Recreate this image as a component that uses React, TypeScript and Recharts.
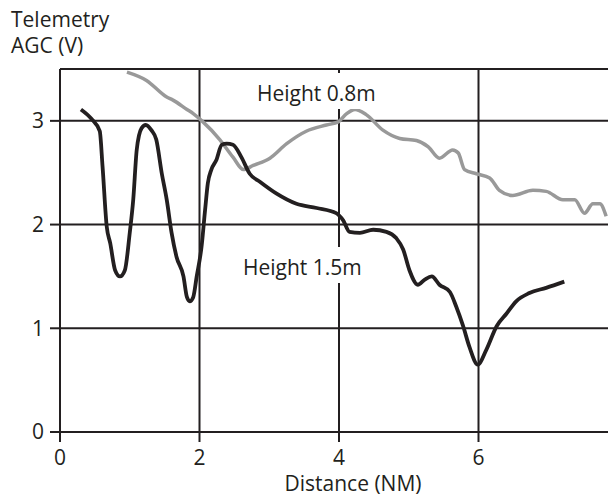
import React from "react";
import { LineChart, Line, XAxis, YAxis, CartesianGrid, ReferenceLine } from "recharts";

// Height 1.5m trace
const lowDistance = [
  0.3, 0.45, 0.57, 0.61, 0.67, 0.72, 0.79, 0.86, 0.93, 1.0, 1.05, 1.1, 1.17, 1.23, 1.31, 1.38,
  1.46, 1.53, 1.6, 1.67, 1.77, 1.82, 1.86, 1.91, 1.96, 2.03, 2.08, 2.12, 2.17, 2.24, 2.32, 2.39,
  2.48, 2.6, 2.72, 2.87, 3.1, 3.39, 3.68, 3.96, 4.06, 4.15, 4.3, 4.49, 4.68, 4.82, 4.92, 5.01,
  5.13, 5.23, 5.33, 5.44, 5.59, 5.68, 5.78, 5.87, 5.99, 6.11, 6.26, 6.4, 6.54, 6.73, 6.97, 7.23,
];
const lowAgc = [
  3.11, 3.02, 2.9, 2.56, 1.98, 1.82, 1.56, 1.5, 1.56, 1.92, 2.24, 2.72, 2.93, 2.96, 2.91, 2.82,
  2.49, 2.24, 1.92, 1.69, 1.5, 1.3, 1.26, 1.3, 1.5, 1.79, 2.14, 2.4, 2.53, 2.62, 2.77, 2.78,
  2.77, 2.65, 2.49, 2.41, 2.3, 2.2, 2.16, 2.11, 2.04, 1.93, 1.92, 1.95, 1.93, 1.87, 1.76, 1.56,
  1.42, 1.47, 1.5, 1.42, 1.35, 1.21, 1.02, 0.82, 0.65, 0.79, 1.02, 1.14, 1.26, 1.34, 1.39, 1.45,
];

// Height 0.8m trace
const highDistance = [
  0.96, 1.24, 1.53, 1.62, 1.82, 1.91, 2.05, 2.29, 2.48, 2.63, 2.77, 3.01, 3.25, 3.53, 3.82, 3.99,
  4.11, 4.23, 4.39, 4.63, 4.87, 5.11, 5.28, 5.44, 5.63, 5.71, 5.8, 5.97, 6.16, 6.3, 6.49, 6.78,
  6.97, 7.21, 7.38, 7.52, 7.64, 7.74, 7.83,
];
const highAgc = [
  3.47, 3.39, 3.23, 3.2, 3.11, 3.07, 2.99, 2.82, 2.65, 2.53, 2.57, 2.64, 2.78, 2.9, 2.96, 2.99,
  3.07, 3.11, 3.06, 2.91, 2.83, 2.81, 2.75, 2.64, 2.72, 2.69, 2.53, 2.49, 2.45, 2.33, 2.28, 2.33,
  2.32, 2.24, 2.24, 2.11, 2.2, 2.2, 2.08,
];

const xTicks = [0, 2, 4, 6];
const yTicks = [0, 1, 2, 3];

const lowData = lowDistance.map((d, i) => ({ d, v: lowAgc[i] }));
const highData = highDistance.map((d, i) => ({ d, v: highAgc[i] }));

const ink = "#231f20";
const font = "'Open Sans', sans-serif";

const noteStyle: React.CSSProperties = {
  position: "absolute",
  background: "#fff",
  fontSize: 21,
  lineHeight: "24px",
  color: ink,
  padding: "8px 3px 4px",
  whiteSpace: "nowrap",
};

export default function App() {
  return (
    <div
      style={{
        position: "absolute",
        left: 0,
        top: 0,
        width: 608,
        height: 496,
        overflow: "hidden",
        background: "#fff",
        fontFamily: font,
      }}
    >
      <LineChart width={640} height={496} margin={{ top: 69, right: 22, bottom: 0, left: 0 }}>
        <CartesianGrid stroke={ink} strokeWidth={2} />
        <XAxis
          type="number"
          dataKey="d"
          domain={[0, 8]}
          ticks={xTicks}
          height={64}
          tickSize={10}
          tickMargin={8}
          stroke={ink}
          strokeWidth={2}
          tick={{ fill: ink, fontSize: 21 }}
          label={{ value: "Distance (NM)", position: "insideBottom", offset: 5, dx: 14, fill: ink, fontSize: 21 }}
        />
        <YAxis
          type="number"
          domain={[0, 3.5]}
          ticks={yTicks}
          width={60}
          tickSize={10}
          tickMargin={6}
          stroke={ink}
          strokeWidth={2}
          tick={{ fill: ink, fontSize: 21 }}
        />
        <ReferenceLine y={3.5} stroke={ink} strokeWidth={2} />
        <Line
          data={highData}
          dataKey="v"
          type="monotone"
          stroke="#999999"
          strokeWidth={3.5}
          dot={false}
          isAnimationActive={false}
        />
        <Line
          data={lowData}
          dataKey="v"
          type="monotone"
          stroke={ink}
          strokeWidth={3.8}
          dot={false}
          isAnimationActive={false}
        />
      </LineChart>
      <div style={{ position: "absolute", left: 11, top: 6, fontSize: 21, lineHeight: "26px", color: ink }}>
        Telemetry
        <br />
        AGC (V)
      </div>
      <div style={{ ...noteStyle, left: 254, top: 73 }}>Height 0.8m</div>
      <div style={{ ...noteStyle, left: 240, top: 247 }}>Height 1.5m</div>
    </div>
  );
}
